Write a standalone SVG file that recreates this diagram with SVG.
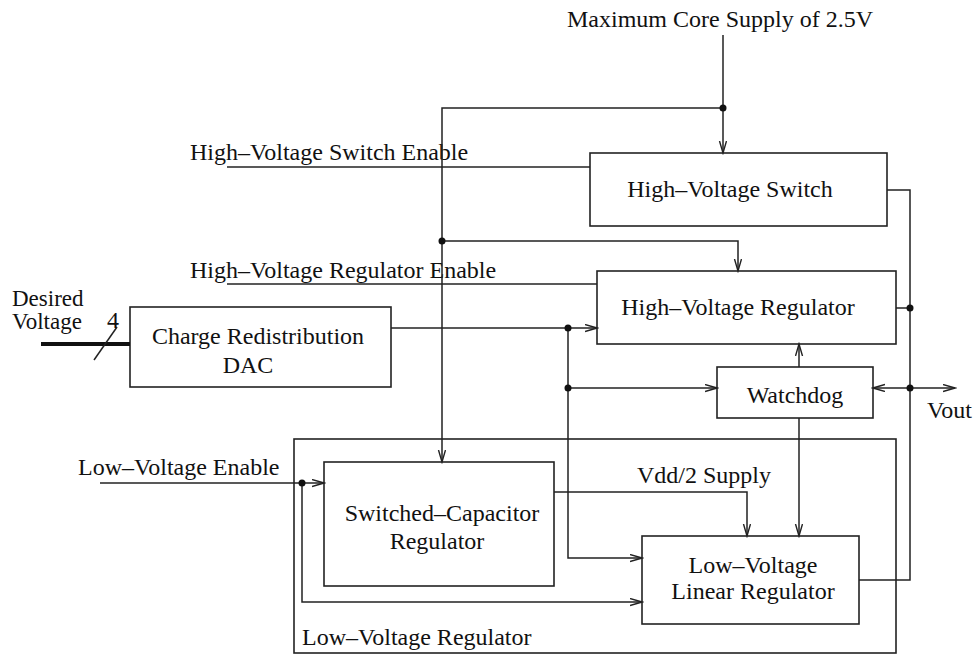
<svg xmlns="http://www.w3.org/2000/svg" width="974" height="656" viewBox="0 0 974 656">
<style>
text{font-family:"Liberation Serif","Times New Roman",serif;font-size:24px;fill:#111}
.box{fill:none;stroke:#222;stroke-width:1.6}
.w{fill:none;stroke:#222;stroke-width:1.5}
.m{text-anchor:middle}
.dot{fill:#111}
.s{font-size:23px}
</style>
<defs>
<marker id="a" markerUnits="userSpaceOnUse" markerWidth="14" markerHeight="10" refX="12" refY="4" orient="auto">
<path d="M0,0.5 L12,4 L0,7.5" fill="none" stroke="#222" stroke-width="1.4"/>
</marker>
</defs>
<rect width="974" height="656" fill="#fff"/>
<g id="lvreg"><rect class="box" x="294" y="439" width="602" height="214"/><text x="302" y="645">Low–Voltage Regulator</text></g>
<g id="hvswitch"><rect class="box" x="590" y="153" width="297" height="73"/><text class="m" x="730" y="197">High–Voltage Switch</text></g>
<g id="hvreg"><rect class="box" x="597" y="271" width="299" height="73"/><text class="m" x="738" y="315">High–Voltage Regulator</text></g>
<g id="dac"><rect class="box" x="130" y="307" width="261" height="80"/><text class="m" x="258" y="344">Charge Redistribution</text><text class="m" x="248" y="373">DAC</text></g>
<g id="watchdog"><rect class="box" x="717" y="367" width="156" height="51"/><text class="m" x="795" y="403">Watchdog</text></g>
<g id="screg"><rect class="box" x="324" y="462" width="230" height="124"/><text class="m" x="442" y="521">Switched–Capacitor</text><text class="m" x="437" y="549">Regulator</text></g>
<g id="lvlin"><rect class="box" x="642" y="536" width="217" height="88"/><text class="m" x="753" y="573">Low–Voltage</text><text class="m" x="753" y="599">Linear Regulator</text></g>
<g id="labels">
<text x="567" y="27">Maximum Core Supply of 2.5V</text>
<text x="190" y="160">High–Voltage Switch Enable</text>
<text x="190" y="278">High–Voltage Regulator Enable</text>
<text class="s" x="12" y="306">Desired</text>
<text class="s" x="12" y="329">Voltage</text>
<text x="107" y="328">4</text>
<text x="78" y="475">Low–Voltage Enable</text>
<text x="637" y="483">Vdd/2 Supply</text>
<text x="927" y="418">Vout</text>
</g>
<g id="connectors">
<path class="w" d="M723,35 V153" marker-end="url(#a)"/>
<path class="w" d="M723,108 H442 V462" marker-end="url(#a)"/>
<path class="w" d="M442,241 H738 V271" marker-end="url(#a)"/>
<path class="w" d="M227,167 H590"/>
<path class="w" d="M227,284 H597"/>
<path class="w" d="M391,328 H597" marker-end="url(#a)"/>
<path class="w" d="M568,328 V558 H642" marker-end="url(#a)"/>
<path class="w" d="M568,388 H717" marker-end="url(#a)"/>
<path class="w" d="M799,367 V344" marker-end="url(#a)"/>
<path class="w" d="M799,418 V536" marker-end="url(#a)"/>
<path class="w" d="M887,190 H910 V580 H859"/>
<path class="w" d="M896,308 H910"/>
<path class="w" d="M910,388 H955" marker-end="url(#a)"/>
<path class="w" d="M910,388 H873" marker-end="url(#a)"/>
<path class="w" d="M100,483 H324" marker-end="url(#a)"/>
<path class="w" d="M302,483 V602 H642" marker-end="url(#a)"/>
<path class="w" d="M554,492 H747 V536" marker-end="url(#a)"/>
<path d="M41,344 H130" stroke="#111" stroke-width="4" fill="none"/>
<path class="w" d="M94,360 L117,327"/>
<circle class="dot" cx="723" cy="108" r="3.5"/>
<circle class="dot" cx="442" cy="241" r="3.5"/>
<circle class="dot" cx="568" cy="328" r="3.5"/>
<circle class="dot" cx="568" cy="388" r="3.5"/>
<circle class="dot" cx="910" cy="308" r="3.5"/>
<circle class="dot" cx="910" cy="388" r="3.5"/>
<circle class="dot" cx="302" cy="483" r="3.5"/>
</g>
</svg>
